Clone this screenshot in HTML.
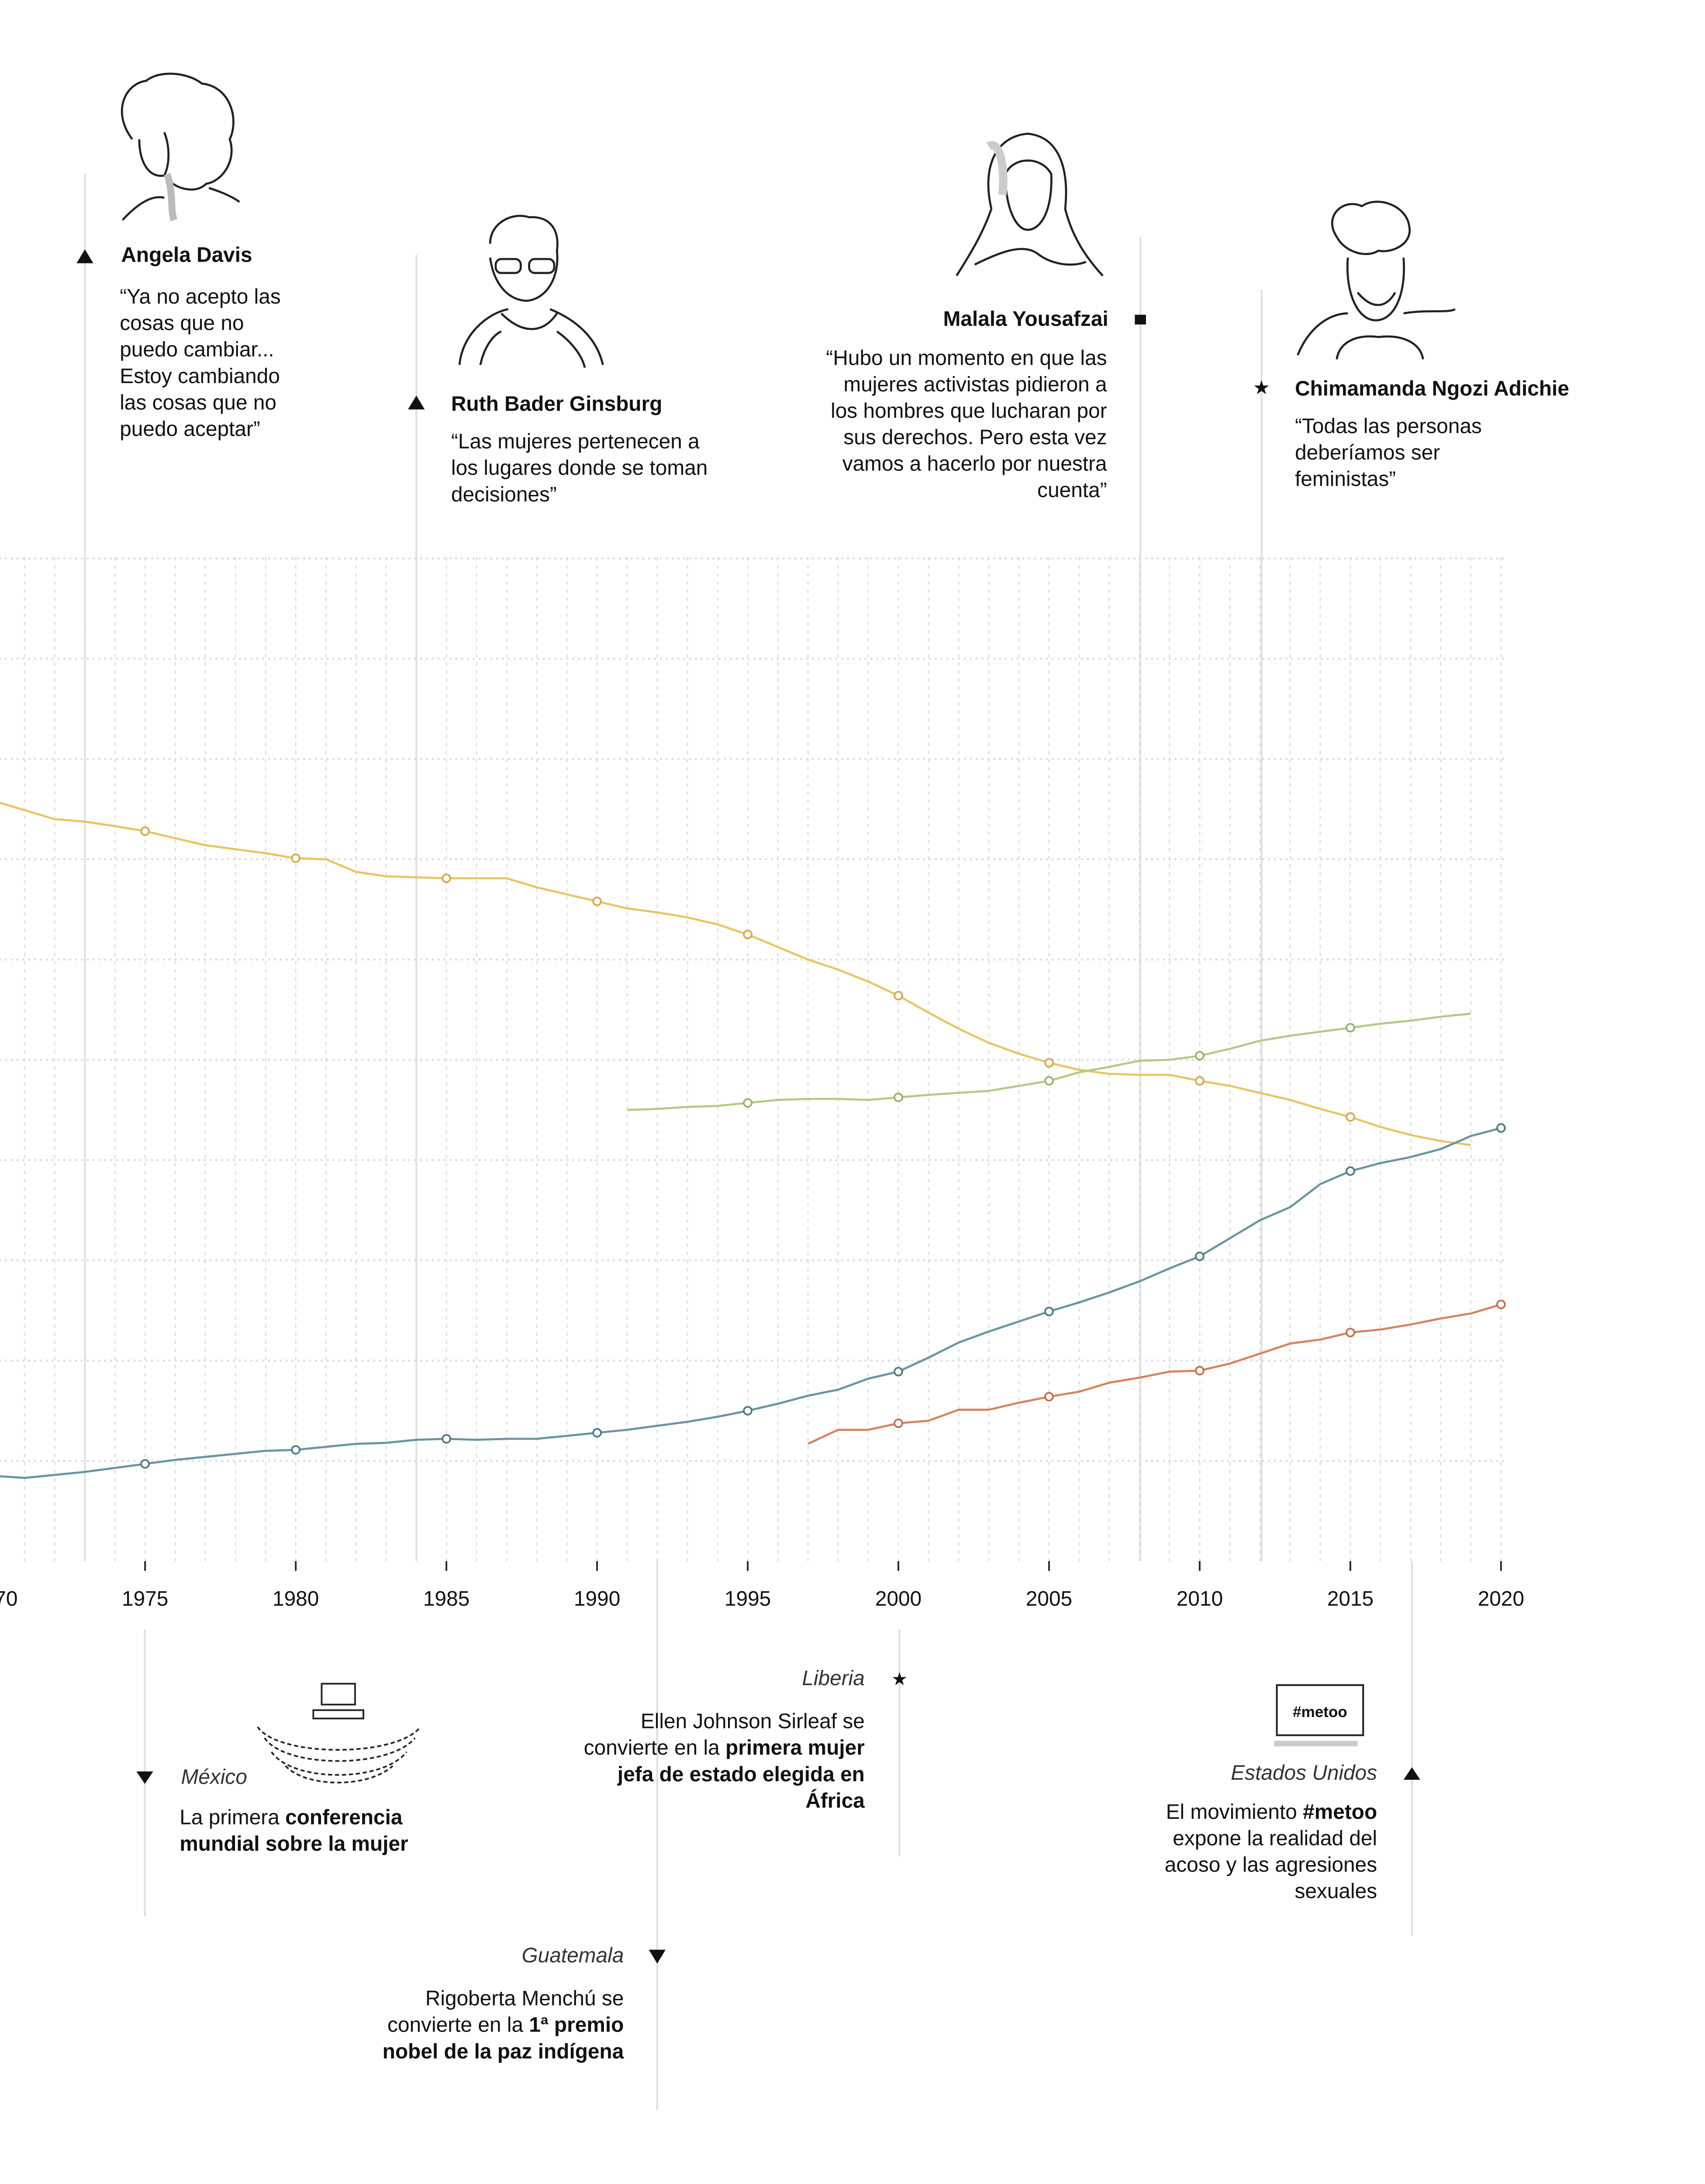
<!DOCTYPE html>
<html><head><meta charset="utf-8"><style>
html,body{margin:0;padding:0;background:#fff;overflow:hidden;width:3904px;height:5180px}
svg{display:block}
text{font-family:"Liberation Sans",sans-serif;fill:#111}
.b{font-weight:bold}
.q{font-size:15px}
.it{font-style:italic;fill:#333}
</style></head><body>
<svg id="chart" width="3904" height="5180" viewBox="0 0 1224.5 1624.7" xmlns="http://www.w3.org/2000/svg">
<g id="grid"></g>
<g id="annot-lines" stroke="#dcdce2" stroke-width="1.2">
<line x1="61" y1="125" x2="61" y2="1121"/>
<line x1="299" y1="183" x2="299" y2="1121"/>
<line x1="819" y1="170" x2="819" y2="1121"/>
<line x1="906" y1="208" x2="906" y2="1121"/>
<line x1="104" y1="1170" x2="104" y2="1376"/>
<line x1="472" y1="1121" x2="472" y2="1515"/>
<line x1="646" y1="1170" x2="646" y2="1333"/>
<line x1="1014" y1="1121" x2="1014" y2="1390"/>
</g>
<g id="series"></g>
<g id="xaxis"></g>

<g>
<g fill="none" stroke="#222" stroke-width="1.5">
<path d="M95 100 C80 80,90 60,105 58 C115 50,135 52,145 60 C165 62,172 85,165 100 C170 115,160 130,148 132 C140 140,125 135,120 128"/>
<path d="M100 100 C100 118,108 128,118 126 C122 118,122 105,118 95"/>
<path d="M88 158 C100 145,110 140,118 142 M150 135 C160 138,168 142,172 145"/>
<path d="M120 125 C125 140,122 150,125 158" stroke="#bbb" stroke-width="5"/>
</g>
<polygon points="55,189 67,189 61,179" fill="#111"/>
<text x="87" y="188" class="b q">Angela Davis</text>
<text class="q"><tspan x="86" y="218">“Ya no acepto las</tspan><tspan x="86" y="237">cosas que no</tspan><tspan x="86" y="256">puedo cambiar...</tspan><tspan x="86" y="275">Estoy cambiando</tspan><tspan x="86" y="294">las cosas que no</tspan><tspan x="86" y="313">puedo aceptar”</tspan></text>
</g>

<g>
<g fill="none" stroke="#222" stroke-width="1.5">
<path d="M352 175 C352 160,368 152,380 156 C395 155,402 165,400 180 C402 200,392 215,378 216 C362 215,354 200,352 185"/>
<rect x="356" y="186" width="18" height="10" rx="4"/><rect x="380" y="186" width="18" height="10" rx="4"/>
<path d="M330 262 C332 240,350 225,365 222 M395 222 C410 228,428 240,433 262 M345 262 C348 248,355 240,360 238 M400 238 C410 245,418 255,420 264"/>
<path d="M360 225 C375 240,390 240,400 225"/>
</g>
<polygon points="293,294 305,294 299,284" fill="#111"/>
<text x="324" y="295" class="b q">Ruth Bader Ginsburg</text>
<text class="q"><tspan x="324" y="322">“Las mujeres pertenecen a</tspan><tspan x="324" y="341">los lugares donde se toman</tspan><tspan x="324" y="360">decisiones”</tspan></text>
</g>

<g>
<g fill="none" stroke="#222" stroke-width="1.5">
<path d="M712 150 C705 120,715 98,738 96 C760 98,768 120,765 150 C770 170,780 185,792 198 M712 150 C705 170,695 185,687 198"/>
<path d="M722 125 C722 150,730 165,738 165 C748 165,756 150,755 125 C748 112,728 112,722 125"/>
<path d="M710 105 C718 100,722 120,720 140" stroke="#ccc" stroke-width="6"/>
<path d="M700 190 C720 180,735 175,745 182 C755 190,770 192,780 188"/>
</g>
<path d="M815 226 h8 v7 h-8 z" fill="#111"/>
<text x="796" y="234" text-anchor="end" class="b q">Malala Yousafzai</text>
<text class="q" text-anchor="end"><tspan x="795" y="262">“Hubo un momento en que las</tspan><tspan x="795" y="281">mujeres activistas pidieron a</tspan><tspan x="795" y="300">los hombres que lucharan por</tspan><tspan x="795" y="319">sus derechos. Pero esta vez</tspan><tspan x="795" y="338">vamos a hacerlo por nuestra</tspan><tspan x="795" y="357">cuenta”</tspan></text>
</g>

<g>
<g fill="none" stroke="#222" stroke-width="1.5">
<path d="M960 170 C950 155,965 142,978 148 C990 140,1010 148,1012 162 C1015 175,1000 182,990 180 C980 186,965 180,960 170"/>
<path d="M968 185 C966 210,975 230,988 230 C1002 230,1010 210,1008 185"/>
<path d="M975 210 C985 222,995 222,1002 210"/>
<path d="M932 255 C940 235,955 225,968 225 M1008 225 C1025 222,1040 225,1045 222 M960 258 C962 245,975 240,990 242 C1005 240,1020 245,1022 258" />
</g>
<text x="906" y="283" text-anchor="middle" font-size="14">★</text>
<text x="930" y="284" class="b q">Chimamanda Ngozi Adichie</text>
<text class="q"><tspan x="930" y="311">“Todas las personas</tspan><tspan x="930" y="330">deberíamos ser</tspan><tspan x="930" y="349">feministas”</tspan></text>
</g>

<g>
<g fill="none" stroke="#222" stroke-width="1.2">
<rect x="231" y="1209" width="24" height="15"/>
<path d="M225 1228 h36 v6 h-36 z"/>
<path d="M185 1240 C200 1262,285 1262,302 1240" stroke-dasharray="3 2"/>
<path d="M190 1248 C205 1270,280 1270,298 1248" stroke-dasharray="3 2"/>
<path d="M195 1258 C210 1280,275 1280,292 1258" stroke-dasharray="3 2"/>
<path d="M205 1268 C220 1284,265 1284,282 1268" stroke-dasharray="3 2"/>
</g>
<polygon points="98,1272 110,1272 104,1281" fill="#111"/>
<text x="130" y="1281" class="q it">México</text>
<text class="q"><tspan x="129" y="1310">La primera </tspan><tspan class="b">conferencia</tspan><tspan x="129" y="1329" class="b">mundial sobre la mujer</tspan></text>
</g>

<g>
<polygon points="466,1400 478,1400 472,1410" fill="#111"/>
<text x="448" y="1409" text-anchor="end" class="q it">Guatemala</text>
<text class="q" text-anchor="end"><tspan x="448" y="1440">Rigoberta Menchú se</tspan><tspan x="448" y="1459">convierte en la <tspan class="b">1ª premio</tspan></tspan><tspan x="448" y="1478" class="b">nobel de la paz indígena</tspan></text>
</g>

<g>
<text x="646" y="1210" text-anchor="middle" font-size="13">★</text>
<text x="621" y="1210" text-anchor="end" class="q it">Liberia</text>
<text class="q" text-anchor="end"><tspan x="621" y="1241">Ellen Johnson Sirleaf se</tspan><tspan x="621" y="1260">convierte en la <tspan class="b">primera mujer</tspan></tspan><tspan x="621" y="1279" class="b">jefa de estado elegida en</tspan><tspan x="621" y="1298" class="b">África</tspan></text>
</g>

<g>
<g>
<rect x="917" y="1210" width="62" height="36" fill="#fff" stroke="#222" stroke-width="1.3"/>
<path d="M915 1252 h60" stroke="#ccc" stroke-width="4"/>
<text x="948" y="1233" text-anchor="middle" font-size="11" class="b">#metoo</text>
</g>
<polygon points="1008,1278 1020,1278 1014,1269" fill="#111"/>
<text x="989" y="1278" text-anchor="end" class="q it">Estados Unidos</text>
<text class="q" text-anchor="end"><tspan x="989" y="1306">El movimiento <tspan class="b">#metoo</tspan></tspan><tspan x="989" y="1325">expone la realidad del</tspan><tspan x="989" y="1344">acoso y las agresiones</tspan><tspan x="989" y="1363">sexuales</tspan></text>
</g>
</svg>
<script>
const years = [];
for (let y = 1970; y <= 2020; y++) years.push(y);
const tickYears = [1970,1975,1980,1985,1990,1995,2000,2005,2010,2015,2020];
const tickLabels = ["1970","1975","1980","1985","1990","1995","2000","2005","2010","2015","2020"];
const gridValues = [10,20,30,40,50,60,70,80,90,100];
const yellowStart = 1970;
const yellowValues = [75.8,74.9,74.0,73.75,73.3,72.8,72.1,71.4,71.0,70.6,70.1,70.0,68.75,68.3,68.2,68.1,68.1,68.1,67.2,66.5,65.8,65.1,64.7,64.2,63.5,62.5,61.25,60.0,59.0,57.8,56.4,54.7,53.1,51.7,50.6,49.7,49.0,48.6,48.5,48.5,47.9,47.4,46.7,46.0,45.1,44.3,43.3,42.5,41.9,41.5];
const greenStart = 1991;
const greenValues = [45.0,45.1,45.3,45.4,45.7,46.0,46.1,46.1,46.0,46.25,46.5,46.7,46.9,47.4,47.9,48.75,49.3,49.9,50.0,50.4,51.1,51.9,52.4,52.8,53.2,53.6,53.9,54.3,54.6];
const blueStart = 1970;
const blueValues = [8.5,8.3,8.6,8.9,9.3,9.7,10.1,10.4,10.7,11.0,11.1,11.4,11.7,11.8,12.1,12.2,12.1,12.2,12.2,12.5,12.8,13.1,13.5,13.9,14.4,15.0,15.7,16.5,17.1,18.2,18.9,20.3,21.8,22.9,23.9,24.9,25.8,26.8,27.9,29.2,30.4,32.2,34.0,35.3,37.6,38.9,39.7,40.3,41.1,42.4,43.2];
const orangeStart = 1997;
const orangeValues = [11.7,13.1,13.1,13.75,14.0,15.1,15.1,15.8,16.4,16.9,17.8,18.3,18.9,19.0,19.7,20.7,21.7,22.1,22.8,23.1,23.6,24.2,24.7,25.6];

const NS = "http://www.w3.org/2000/svg";
const xs = yr => -4 + (yr - 1970) * 21.64;
const ys = v => 1121 - v * 7.2;
function mk(tag, attrs, parent) {
  const e = document.createElementNS(NS, tag);
  for (const k in attrs) e.setAttribute(k, attrs[k]);
  parent.appendChild(e);
  return e;
}
const grid = document.getElementById('grid');
gridValues.forEach(v => {
  const l = mk('line', {x1: 0, x2: 1082, y1: ys(v), y2: ys(v), stroke: '#dcdce2', 'stroke-width': 1.6, 'stroke-linecap': 'round', 'stroke-dasharray': '0 4.2'}, grid);
  
  
});
years.forEach(yr => {
  const l = mk('line', {x1: xs(yr), x2: xs(yr), y1: 400, y2: 1121, stroke: '#dcdce2', 'stroke-width': 0.9, 'stroke-dasharray': '2.5 3.3'}, grid);
  
  
});
const xaxis = document.getElementById('xaxis');
tickYears.forEach((yr, i) => {
  const t = mk('line', {x1: xs(yr), x2: xs(yr), y1: 1121, y2: 1128, stroke: '#222', 'stroke-width': 1.2}, xaxis);
  
  
  const tx = mk('text', {x: xs(yr), y: 1153, 'text-anchor': 'middle', 'font-size': 15}, xaxis);
  tx.textContent = tickLabels[i];
  
  
});
const series = document.getElementById('series');
function draw(name, start, vals, color, mcolor) {
  const g = mk('g', {}, series);
  
  
  const d = vals.map((v, i) => (i ? 'L' : 'M') + xs(start + i).toFixed(2) + ' ' + ys(v).toFixed(2)).join(' ');
  const p = mk('path', {d: d, fill: 'none', stroke: color, 'stroke-width': 1.5, 'stroke-linejoin': 'round'}, g);
  
  
  vals.forEach((v, i) => {
    const yr = start + i;
    if (yr % 5 !== 0 || yr === 1970) return;
    const c = mk('circle', {cx: xs(yr), cy: ys(v), r: 2.8, fill: '#fff', stroke: mcolor, 'stroke-width': 1.2}, g);
    
    
  });
}
draw('yellow', yellowStart, yellowValues, '#e8c462', '#dba54a');
draw('green', greenStart, greenValues, '#b3ca87', '#97b06a');
draw('blue', blueStart, blueValues, '#6895a0', '#4a7a86');
draw('orange', orangeStart, orangeValues, '#d5845f', '#c46c48');
</script>
</body></html>
